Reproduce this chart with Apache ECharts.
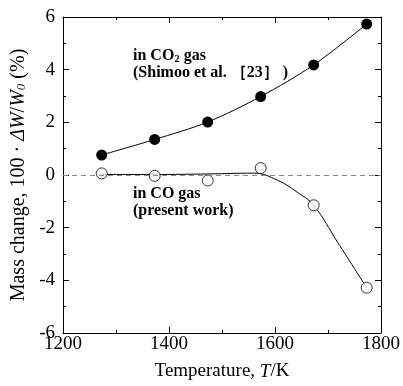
<!DOCTYPE html>
<html>
<head>
<meta charset="utf-8">
<script src="https://cdn.jsdelivr.net/npm/echarts@6/dist/echarts.min.js"></script>
<style>
  html, body { margin: 0; padding: 0; background: #fff; }
  #main { width: 403px; height: 386px; }
</style>
</head>
<body>
<div id="main"></div>
<script>
"use strict";

// measured temperatures (K)
const temps = [1273, 1373, 1473, 1573, 1673, 1773];
// mass change in CO2 gas (Shimoo et al.)
const co2Values = [0.76, 1.35, 2.01, 2.98, 4.18, 5.73];
// mass change in CO gas (present work)
const coValues = [0.06, -0.03, -0.21, 0.26, -1.15, -4.28];
// hand-drawn fit through the CO data
const coFitT = [1273, 1373, 1473, 1560, 1605, 1643, 1673, 1718, 1773];
const coFitV = [0.02, 0.02, 0.04, 0.07, -0.2, -0.67, -1.15, -2.55, -4.28];

const xTicks = [1200, 1400, 1600, 1800];
const yTicks = [-6, -4, -2, 0, 2, 4, 6];

const pairs = (xs, ys) => xs.map((x, i) => [x, ys[i]]);

const FONT = 'Liberation Serif';

const chart = echarts.init(document.getElementById('main'), null, { renderer: 'canvas' });

// common axis look: inside ticks, minor ticks, black frame
const axisBase = {
    type: 'value',
    axisLine: { show: true, onZero: false, lineStyle: { color: '#000', width: 1 } },
    axisTick: { show: true, inside: true, length: 6, lineStyle: { color: '#000' } },
    minorTick: { show: true, splitNumber: 2, length: 3, lineStyle: { color: '#000' } },
    splitLine: { show: false },
    minorSplitLine: { show: false }
};

const xBase = Object.assign({}, axisBase, { min: xTicks[0], max: xTicks[xTicks.length - 1], interval: 200 });
const yBase = Object.assign({}, axisBase, { min: yTicks[0], max: yTicks[yTicks.length - 1], interval: 2 });

const option = {
    animation: false,
    backgroundColor: '#fff',
    grid: { left: 63, right: 19, top: 17, bottom: 49 },
    xAxis: [
        Object.assign({}, xBase, {
            position: 'bottom',
            name: 'Temperature, {i|T}/K',
            nameLocation: 'middle',
            nameGap: 29,
            nameTextStyle: {
                fontFamily: FONT, fontSize: 19, color: '#000',
                rich: { i: { fontFamily: FONT, fontSize: 19, fontStyle: 'italic', color: '#000' } }
            },
            axisLabel: {
                fontFamily: FONT, fontSize: 19, color: '#000', margin: 2,
                formatter: v => String(v)
            }
        }),
        Object.assign({}, xBase, { position: 'top', axisLabel: { show: false } })
    ],
    yAxis: [
        Object.assign({}, yBase, {
            position: 'left',
            name: 'Mass change, 100 · {i|ΔW}/{i|W}{s|0} (%)',
            nameLocation: 'middle',
            nameGap: 32,
            nameTextStyle: {
                fontFamily: FONT, fontSize: 20, color: '#000',
                rich: {
                    i: { fontFamily: FONT, fontSize: 20, fontStyle: 'italic', color: '#000' },
                    s: { fontFamily: FONT, fontSize: 13, fontStyle: 'italic', color: '#000', verticalAlign: 'bottom', padding: [7, 0, 0, 0] }
                }
            },
            axisLabel: { fontFamily: FONT, fontSize: 19, color: '#000', margin: 8 }
        }),
        Object.assign({}, yBase, { position: 'right', axisLabel: { show: false } })
    ],
    graphic: [
        {
            type: 'text', left: 133, top: 48, silent: true,
            style: {
                text: '{b|in CO}{sub|2}{b| gas}\n{b|(Shimoo et al. ［23］ )}',
                rich: {
                    b: { fontFamily: FONT, fontSize: 16, fontWeight: 'bold', fill: '#000', lineHeight: 17 },
                    sub: { fontFamily: FONT, fontSize: 11, fontWeight: 'bold', fill: '#000', verticalAlign: 'bottom', lineHeight: 17, padding: [5, 0, 0, 0] }
                }
            }
        },
        {
            type: 'text', left: 133, top: 185, silent: true,
            style: {
                text: 'in CO gas\n(present work)',
                font: 'bold 16px "Liberation Serif"',
                fill: '#000',
                lineHeight: 17
            }
        }
    ],
    series: [
        {
            name: 'CO fit',
            type: 'line',
            data: pairs(coFitT, coFitV),
            smooth: 0.4,
            showSymbol: false,
            lineStyle: { color: '#000', width: 1 },
            markLine: {
                silent: true,
                symbol: 'none',
                label: { show: false },
                lineStyle: { color: '#888', type: [5, 4], width: 1 },
                data: [{ yAxis: 0 }]
            },
            z: 2
        },
        {
            name: 'in CO2 gas',
            type: 'line',
            data: pairs(temps, co2Values),
            smooth: 0.3,
            symbol: 'circle',
            symbolSize: 11,
            itemStyle: { color: '#000' },
            lineStyle: { color: '#000', width: 1 },
            z: 3
        },
        {
            name: 'in CO gas',
            type: 'scatter',
            data: pairs(temps, coValues),
            symbol: 'circle',
            symbolSize: 11,
            itemStyle: { color: '#fff', borderColor: '#000', borderWidth: 1 },
            z: 4
        }
    ]
};

chart.setOption(option);
</script>
</body>
</html>
